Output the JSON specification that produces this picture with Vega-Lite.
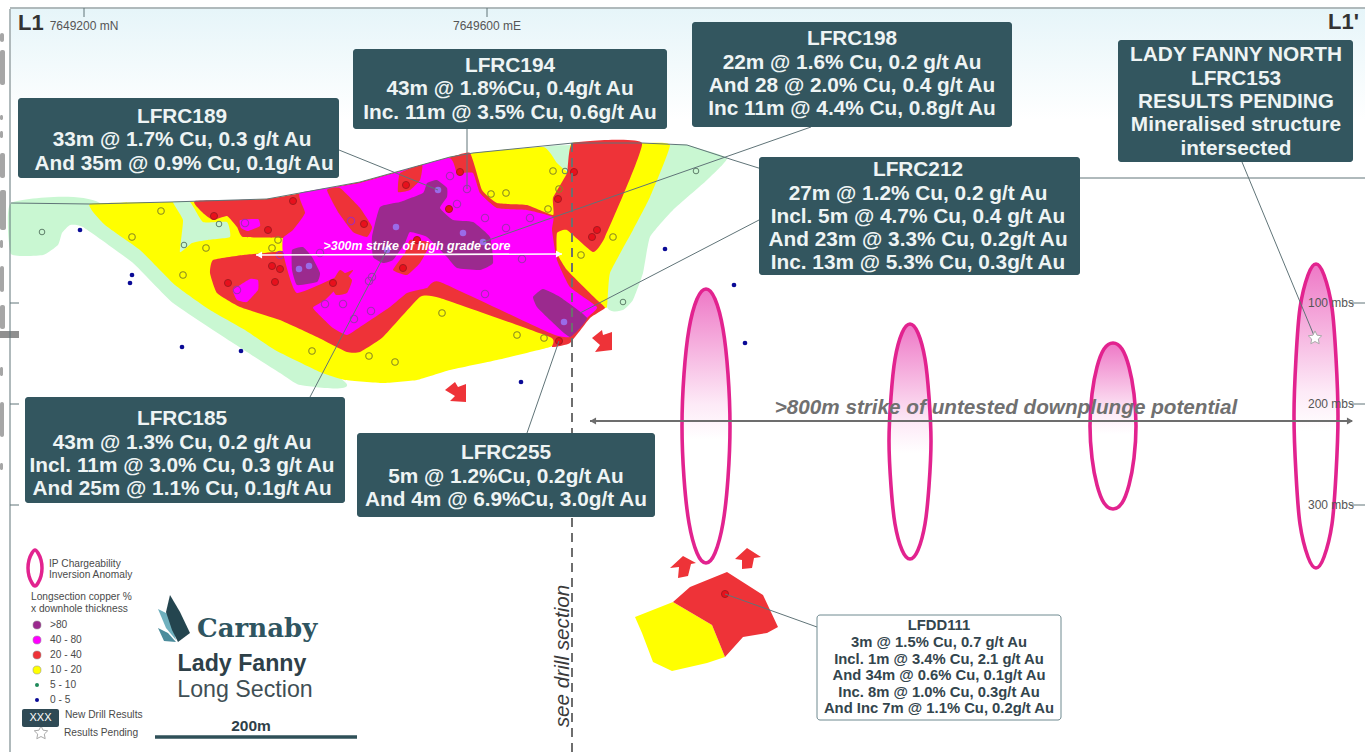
{"$schema":"https://vega.github.io/schema/vega-lite/v6.json","width":1365,"height":752,"padding":0,"autosize":"none","background":"#ffffff","config":{"view":{"stroke":null}},
"datasets":{
"polys":[
{"shape":"g1","grade":"5-10","x":11,"y":203},{"shape":"g1","grade":"5-10","x":100,"y":203},{"shape":"g1","grade":"5-10","x":345,"y":382},{"shape":"g1","grade":"5-10","x":300,"y":385},{"shape":"g1","grade":"5-10","x":280,"y":373},{"shape":"g1","grade":"5-10","x":233,"y":343},{"shape":"g1","grade":"5-10","x":173,"y":303},{"shape":"g1","grade":"5-10","x":133,"y":263},{"shape":"g1","grade":"5-10","x":83,"y":227},{"shape":"g1","grade":"5-10","x":70,"y":225},{"shape":"g1","grade":"5-10","x":62,"y":233},{"shape":"g1","grade":"5-10","x":58,"y":245},{"shape":"g1","grade":"5-10","x":43,"y":255},{"shape":"g1","grade":"5-10","x":11,"y":254},
{"shape":"g2","grade":"5-10","x":543,"y":147},{"shape":"g2","grade":"5-10","x":670,"y":145},{"shape":"g2","grade":"5-10","x":687,"y":145},{"shape":"g2","grade":"5-10","x":727,"y":158},{"shape":"g2","grade":"5-10","x":707,"y":180},{"shape":"g2","grade":"5-10","x":673,"y":210},{"shape":"g2","grade":"5-10","x":650,"y":237},{"shape":"g2","grade":"5-10","x":643,"y":273},{"shape":"g2","grade":"5-10","x":633,"y":300},{"shape":"g2","grade":"5-10","x":623,"y":310},{"shape":"g2","grade":"5-10","x":607,"y":307},{"shape":"g2","grade":"5-10","x":570,"y":200},
{"shape":"y1","grade":"10-20","x":90,"y":204},{"shape":"y1","grade":"10-20","x":170,"y":202},{"shape":"y1","grade":"10-20","x":267,"y":199},{"shape":"y1","grade":"10-20","x":360,"y":182},{"shape":"y1","grade":"10-20","x":450,"y":157},{"shape":"y1","grade":"10-20","x":473,"y":153},{"shape":"y1","grade":"10-20","x":543,"y":147},{"shape":"y1","grade":"10-20","x":557,"y":163},{"shape":"y1","grade":"10-20","x":570,"y":173},{"shape":"y1","grade":"10-20","x":572,"y":143},{"shape":"y1","grade":"10-20","x":642,"y":143},{"shape":"y1","grade":"10-20","x":670,"y":145},{"shape":"y1","grade":"10-20","x":650,"y":197},{"shape":"y1","grade":"10-20","x":633,"y":230},{"shape":"y1","grade":"10-20","x":610,"y":273},{"shape":"y1","grade":"10-20","x":607,"y":307},{"shape":"y1","grade":"10-20","x":600,"y":308},{"shape":"y1","grade":"10-20","x":570,"y":335},{"shape":"y1","grade":"10-20","x":550,"y":347},{"shape":"y1","grade":"10-20","x":497,"y":360},{"shape":"y1","grade":"10-20","x":450,"y":370},{"shape":"y1","grade":"10-20","x":417,"y":380},{"shape":"y1","grade":"10-20","x":383,"y":383},{"shape":"y1","grade":"10-20","x":345,"y":380},{"shape":"y1","grade":"10-20","x":320,"y":372},{"shape":"y1","grade":"10-20","x":275,"y":350},{"shape":"y1","grade":"10-20","x":245,"y":330},{"shape":"y1","grade":"10-20","x":210,"y":310},{"shape":"y1","grade":"10-20","x":175,"y":285},{"shape":"y1","grade":"10-20","x":140,"y":250},{"shape":"y1","grade":"10-20","x":105,"y":225},
{"shape":"g3","grade":"5-10","x":173,"y":202},{"shape":"g3","grade":"5-10","x":190,"y":202},{"shape":"g3","grade":"5-10","x":203,"y":222},{"shape":"g3","grade":"5-10","x":227,"y":222},{"shape":"g3","grade":"5-10","x":230,"y":237},{"shape":"g3","grade":"5-10","x":207,"y":240},{"shape":"g3","grade":"5-10","x":192,"y":243},{"shape":"g3","grade":"5-10","x":180,"y":252},{"shape":"g3","grade":"5-10","x":183,"y":220},
{"shape":"r1","grade":"20-40","x":195,"y":201},{"shape":"r1","grade":"20-40","x":267,"y":199},{"shape":"r1","grade":"20-40","x":360,"y":182},{"shape":"r1","grade":"20-40","x":448,"y":158},{"shape":"r1","grade":"20-40","x":470,"y":153},{"shape":"r1","grade":"20-40","x":482,"y":190},{"shape":"r1","grade":"20-40","x":497,"y":203},{"shape":"r1","grade":"20-40","x":527,"y":205},{"shape":"r1","grade":"20-40","x":553,"y":215},{"shape":"r1","grade":"20-40","x":553,"y":198},{"shape":"r1","grade":"20-40","x":567,"y":173},{"shape":"r1","grade":"20-40","x":573,"y":143},{"shape":"r1","grade":"20-40","x":642,"y":143},{"shape":"r1","grade":"20-40","x":605,"y":237},{"shape":"r1","grade":"20-40","x":593,"y":252},{"shape":"r1","grade":"20-40","x":567,"y":230},{"shape":"r1","grade":"20-40","x":557,"y":233},{"shape":"r1","grade":"20-40","x":557,"y":253},{"shape":"r1","grade":"20-40","x":567,"y":270},{"shape":"r1","grade":"20-40","x":597,"y":300},{"shape":"r1","grade":"20-40","x":605,"y":308},{"shape":"r1","grade":"20-40","x":590,"y":318},{"shape":"r1","grade":"20-40","x":570,"y":343},{"shape":"r1","grade":"20-40","x":552,"y":347},{"shape":"r1","grade":"20-40","x":550,"y":337},{"shape":"r1","grade":"20-40","x":440,"y":298},{"shape":"r1","grade":"20-40","x":420,"y":297},{"shape":"r1","grade":"20-40","x":383,"y":337},{"shape":"r1","grade":"20-40","x":360,"y":352},{"shape":"r1","grade":"20-40","x":347,"y":352},{"shape":"r1","grade":"20-40","x":317,"y":337},{"shape":"r1","grade":"20-40","x":280,"y":320},{"shape":"r1","grade":"20-40","x":240,"y":307},{"shape":"r1","grade":"20-40","x":217,"y":293},{"shape":"r1","grade":"20-40","x":210,"y":273},{"shape":"r1","grade":"20-40","x":213,"y":260},{"shape":"r1","grade":"20-40","x":243,"y":255},{"shape":"r1","grade":"20-40","x":290,"y":250},{"shape":"r1","grade":"20-40","x":283,"y":238},{"shape":"r1","grade":"20-40","x":243,"y":237},{"shape":"r1","grade":"20-40","x":237,"y":227},{"shape":"r1","grade":"20-40","x":227,"y":216},{"shape":"r1","grade":"20-40","x":213,"y":220},{"shape":"r1","grade":"20-40","x":203,"y":213},
{"shape":"m1","grade":"40-80","x":300,"y":193},{"shape":"m1","grade":"40-80","x":360,"y":183},{"shape":"m1","grade":"40-80","x":448,"y":158},{"shape":"m1","grade":"40-80","x":457,"y":173},{"shape":"m1","grade":"40-80","x":473,"y":173},{"shape":"m1","grade":"40-80","x":480,"y":193},{"shape":"m1","grade":"40-80","x":497,"y":208},{"shape":"m1","grade":"40-80","x":527,"y":210},{"shape":"m1","grade":"40-80","x":553,"y":217},{"shape":"m1","grade":"40-80","x":552,"y":230},{"shape":"m1","grade":"40-80","x":557,"y":260},{"shape":"m1","grade":"40-80","x":570,"y":287},{"shape":"m1","grade":"40-80","x":597,"y":307},{"shape":"m1","grade":"40-80","x":588,"y":317},{"shape":"m1","grade":"40-80","x":570,"y":337},{"shape":"m1","grade":"40-80","x":550,"y":333},{"shape":"m1","grade":"40-80","x":440,"y":282},{"shape":"m1","grade":"40-80","x":427,"y":288},{"shape":"m1","grade":"40-80","x":407,"y":293},{"shape":"m1","grade":"40-80","x":390,"y":307},{"shape":"m1","grade":"40-80","x":360,"y":327},{"shape":"m1","grade":"40-80","x":347,"y":335},{"shape":"m1","grade":"40-80","x":333,"y":328},{"shape":"m1","grade":"40-80","x":313,"y":308},{"shape":"m1","grade":"40-80","x":325,"y":300},{"shape":"m1","grade":"40-80","x":353,"y":270},{"shape":"m1","grade":"40-80","x":297,"y":293},{"shape":"m1","grade":"40-80","x":283,"y":253},{"shape":"m1","grade":"40-80","x":283,"y":238},{"shape":"m1","grade":"40-80","x":293,"y":230},{"shape":"m1","grade":"40-80","x":305,"y":213},
{"shape":"m2","grade":"40-80","x":240,"y":220},{"shape":"m2","grade":"40-80","x":258,"y":219},{"shape":"m2","grade":"40-80","x":260,"y":226},{"shape":"m2","grade":"40-80","x":248,"y":231},{"shape":"m2","grade":"40-80","x":241,"y":228},
{"shape":"m3","grade":"40-80","x":233,"y":290},{"shape":"m3","grade":"40-80","x":250,"y":279},{"shape":"m3","grade":"40-80","x":258,"y":280},{"shape":"m3","grade":"40-80","x":258,"y":290},{"shape":"m3","grade":"40-80","x":247,"y":302},{"shape":"m3","grade":"40-80","x":237,"y":300},
{"shape":"r2","grade":"20-40","x":327,"y":190},{"shape":"r2","grade":"20-40","x":340,"y":188},{"shape":"r2","grade":"20-40","x":360,"y":208},{"shape":"r2","grade":"20-40","x":372,"y":227},{"shape":"r2","grade":"20-40","x":367,"y":237},{"shape":"r2","grade":"20-40","x":353,"y":232},{"shape":"r2","grade":"20-40","x":338,"y":212},
{"shape":"r3","grade":"20-40","x":398,"y":192},{"shape":"r3","grade":"20-40","x":400,"y":173},{"shape":"r3","grade":"20-40","x":422,"y":165},{"shape":"r3","grade":"20-40","x":420,"y":180},{"shape":"r3","grade":"20-40","x":410,"y":190},
{"shape":"r5","grade":"20-40","x":340,"y":270},{"shape":"r5","grade":"20-40","x":352,"y":280},{"shape":"r5","grade":"20-40","x":347,"y":293},{"shape":"r5","grade":"20-40","x":336,"y":295},{"shape":"r5","grade":"20-40","x":331,"y":285},
{"shape":"p1","grade":">80","x":380,"y":207},{"shape":"p1","grade":">80","x":400,"y":202},{"shape":"p1","grade":">80","x":423,"y":193},{"shape":"p1","grade":">80","x":427,"y":183},{"shape":"p1","grade":">80","x":437,"y":180},{"shape":"p1","grade":">80","x":447,"y":188},{"shape":"p1","grade":">80","x":447,"y":197},{"shape":"p1","grade":">80","x":440,"y":208},{"shape":"p1","grade":">80","x":453,"y":220},{"shape":"p1","grade":">80","x":473,"y":222},{"shape":"p1","grade":">80","x":490,"y":237},{"shape":"p1","grade":">80","x":493,"y":263},{"shape":"p1","grade":">80","x":480,"y":270},{"shape":"p1","grade":">80","x":457,"y":268},{"shape":"p1","grade":">80","x":447,"y":257},{"shape":"p1","grade":">80","x":427,"y":237},{"shape":"p1","grade":">80","x":410,"y":232},{"shape":"p1","grade":">80","x":405,"y":243},{"shape":"p1","grade":">80","x":393,"y":260},{"shape":"p1","grade":">80","x":383,"y":263},{"shape":"p1","grade":">80","x":373,"y":257},{"shape":"p1","grade":">80","x":372,"y":237},
{"shape":"r4","grade":"20-40","x":410,"y":240},{"shape":"r4","grade":"20-40","x":430,"y":243},{"shape":"r4","grade":"20-40","x":420,"y":263},{"shape":"r4","grade":"20-40","x":407,"y":275},{"shape":"r4","grade":"20-40","x":393,"y":270},{"shape":"r4","grade":"20-40","x":405,"y":253},
{"shape":"p2","grade":">80","x":292,"y":250},{"shape":"p2","grade":">80","x":303,"y":247},{"shape":"p2","grade":">80","x":312,"y":257},{"shape":"p2","grade":">80","x":320,"y":273},{"shape":"p2","grade":">80","x":317,"y":282},{"shape":"p2","grade":">80","x":297,"y":285},{"shape":"p2","grade":">80","x":292,"y":270},
{"shape":"p3","grade":">80","x":533,"y":297},{"shape":"p3","grade":">80","x":543,"y":289},{"shape":"p3","grade":">80","x":560,"y":297},{"shape":"p3","grade":">80","x":587,"y":318},{"shape":"p3","grade":">80","x":570,"y":337},{"shape":"p3","grade":">80","x":550,"y":320},{"shape":"p3","grade":">80","x":537,"y":307}
],
"angular":[
{"shape":"y2","grade":"10-20","x":635,"y":617},{"shape":"y2","grade":"10-20","x":673,"y":602},{"shape":"y2","grade":"10-20","x":712,"y":625},{"shape":"y2","grade":"10-20","x":725,"y":657},{"shape":"y2","grade":"10-20","x":707,"y":663},{"shape":"y2","grade":"10-20","x":672,"y":671},{"shape":"y2","grade":"10-20","x":653,"y":662},{"shape":"y2","grade":"10-20","x":642,"y":633},
{"shape":"r6","grade":"20-40","x":673,"y":602},{"shape":"r6","grade":"20-40","x":690,"y":587},{"shape":"r6","grade":"20-40","x":727,"y":572},{"shape":"r6","grade":"20-40","x":763,"y":595},{"shape":"r6","grade":"20-40","x":778,"y":627},{"shape":"r6","grade":"20-40","x":767,"y":633},{"shape":"r6","grade":"20-40","x":743,"y":637},{"shape":"r6","grade":"20-40","x":725,"y":657},{"shape":"r6","grade":"20-40","x":712,"y":625},
{"shape":"a1","grade":"20-40","x":670,"y":568},{"shape":"a1","grade":"20-40","x":683,"y":556},{"shape":"a1","grade":"20-40","x":696,"y":563},{"shape":"a1","grade":"20-40","x":691,"y":564},{"shape":"a1","grade":"20-40","x":688,"y":576},{"shape":"a1","grade":"20-40","x":678,"y":578},{"shape":"a1","grade":"20-40","x":679,"y":567},
{"shape":"a2","grade":"20-40","x":735,"y":559},{"shape":"a2","grade":"20-40","x":747,"y":548},{"shape":"a2","grade":"20-40","x":761,"y":557},{"shape":"a2","grade":"20-40","x":754,"y":558},{"shape":"a2","grade":"20-40","x":752,"y":568},{"shape":"a2","grade":"20-40","x":742,"y":569},{"shape":"a2","grade":"20-40","x":742,"y":560},
{"shape":"a3","grade":"20-40","x":592,"y":338},{"shape":"a3","grade":"20-40","x":602,"y":330},{"shape":"a3","grade":"20-40","x":603,"y":335},{"shape":"a3","grade":"20-40","x":612,"y":332},{"shape":"a3","grade":"20-40","x":612,"y":350},{"shape":"a3","grade":"20-40","x":595,"y":352},{"shape":"a3","grade":"20-40","x":600,"y":345},
{"shape":"a4","grade":"20-40","x":445,"y":390},{"shape":"a4","grade":"20-40","x":455,"y":382},{"shape":"a4","grade":"20-40","x":458,"y":387},{"shape":"a4","grade":"20-40","x":466,"y":384},{"shape":"a4","grade":"20-40","x":466,"y":402},{"shape":"a4","grade":"20-40","x":450,"y":401},{"shape":"a4","grade":"20-40","x":455,"y":396}
],
"holes":[
{"grade":"5-10","x":42,"y":232},{"grade":"5-10","x":219,"y":224},{"grade":"5-10","x":184,"y":245},{"grade":"5-10","x":565,"y":171},{"grade":"5-10","x":696,"y":171},{"grade":"5-10","x":623,"y":302},
{"grade":"0-5","x":80,"y":230},{"grade":"0-5","x":132,"y":275},{"grade":"0-5","x":130,"y":283},{"grade":"0-5","x":182,"y":347},{"grade":"0-5","x":241,"y":351},{"grade":"0-5","x":665,"y":249},{"grade":"0-5","x":734,"y":285},{"grade":"0-5","x":521,"y":382},{"grade":"0-5","x":745,"y":343},
{"grade":"10-20","x":161,"y":211},{"grade":"10-20","x":132,"y":237},{"grade":"10-20","x":206,"y":248},{"grade":"10-20","x":183,"y":275},{"grade":"10-20","x":278,"y":240},{"grade":"10-20","x":272,"y":248},{"grade":"10-20","x":312,"y":351},{"grade":"10-20","x":553,"y":171},{"grade":"10-20","x":491,"y":194},{"grade":"10-20","x":506,"y":193},{"grade":"10-20","x":559,"y":189},{"grade":"10-20","x":548,"y":209},{"grade":"10-20","x":442,"y":313},{"grade":"10-20","x":517,"y":335},{"grade":"10-20","x":544,"y":338},{"grade":"10-20","x":369,"y":356},{"grade":"10-20","x":395,"y":362},{"grade":"10-20","x":581,"y":255},{"grade":"10-20","x":613,"y":237},
{"grade":"20-40","x":293,"y":201},{"grade":"20-40","x":214,"y":216},{"grade":"20-40","x":268,"y":230},{"grade":"20-40","x":272,"y":266},{"grade":"20-40","x":280,"y":269},{"grade":"20-40","x":228,"y":283},{"grade":"20-40","x":275,"y":282},{"grade":"20-40","x":333,"y":283},{"grade":"20-40","x":406,"y":185},{"grade":"20-40","x":460,"y":172},{"grade":"20-40","x":449,"y":209},{"grade":"20-40","x":364,"y":224},{"grade":"20-40","x":417,"y":240},{"grade":"20-40","x":403,"y":268},{"grade":"20-40","x":574,"y":172},{"grade":"20-40","x":558,"y":199},{"grade":"20-40","x":597,"y":230},{"grade":"20-40","x":592,"y":237},{"grade":"20-40","x":559,"y":341},{"grade":"20-40","x":725,"y":594},
{"grade":"40-80","x":245,"y":223},{"grade":"40-80","x":351,"y":221},{"grade":"40-80","x":280,"y":255},{"grade":"40-80","x":320,"y":253},{"grade":"40-80","x":237,"y":290},{"grade":"40-80","x":325,"y":304},{"grade":"40-80","x":343,"y":304},{"grade":"40-80","x":354,"y":319},{"grade":"40-80","x":450,"y":176},{"grade":"40-80","x":467,"y":189},{"grade":"40-80","x":457,"y":204},{"grade":"40-80","x":485,"y":218},{"grade":"40-80","x":530,"y":218},{"grade":"40-80","x":506,"y":228},{"grade":"40-80","x":522,"y":259},{"grade":"40-80","x":372,"y":277},{"grade":"40-80","x":369,"y":281},{"grade":"40-80","x":485,"y":294},{"grade":"40-80","x":371,"y":311},
{"grade":">80","x":299,"y":269},{"grade":">80","x":309,"y":266},{"grade":">80","x":438,"y":190},{"grade":">80","x":396,"y":227},{"grade":">80","x":463,"y":233},{"grade":">80","x":483,"y":242},{"grade":">80","x":387,"y":250},{"grade":">80","x":564,"y":322}
],
"anomalies":[
{"a":"A","x":706,"y":289},{"a":"A","x":715,"y":299},{"a":"A","x":723,"y":329},{"a":"A","x":728,"y":374},{"a":"A","x":730,"y":426},{"a":"A","x":728,"y":478},{"a":"A","x":723,"y":523},{"a":"A","x":715,"y":553},{"a":"A","x":706,"y":563},{"a":"A","x":697,"y":553},{"a":"A","x":689,"y":523},{"a":"A","x":684,"y":478},{"a":"A","x":682,"y":426},{"a":"A","x":684,"y":374},{"a":"A","x":689,"y":329},{"a":"A","x":697,"y":299},
{"a":"B","x":910,"y":324},{"a":"B","x":918,"y":333},{"a":"B","x":925,"y":359},{"a":"B","x":929,"y":397},{"a":"B","x":931,"y":441},{"a":"B","x":929,"y":486},{"a":"B","x":925,"y":524},{"a":"B","x":918,"y":550},{"a":"B","x":910,"y":559},{"a":"B","x":902,"y":550},{"a":"B","x":895,"y":524},{"a":"B","x":891,"y":486},{"a":"B","x":889,"y":441},{"a":"B","x":891,"y":397},{"a":"B","x":895,"y":359},{"a":"B","x":902,"y":333},
{"a":"C","x":1113,"y":343},{"a":"C","x":1122,"y":349},{"a":"C","x":1129,"y":367},{"a":"C","x":1134,"y":394},{"a":"C","x":1136,"y":426},{"a":"C","x":1134,"y":458},{"a":"C","x":1129,"y":485},{"a":"C","x":1122,"y":503},{"a":"C","x":1113,"y":509},{"a":"C","x":1104,"y":503},{"a":"C","x":1097,"y":485},{"a":"C","x":1092,"y":458},{"a":"C","x":1090,"y":426},{"a":"C","x":1092,"y":394},{"a":"C","x":1097,"y":367},{"a":"C","x":1104,"y":349},
{"a":"D","x":1316,"y":264},{"a":"D","x":1324,"y":275},{"a":"D","x":1332,"y":308},{"a":"D","x":1336,"y":358},{"a":"D","x":1338,"y":416},{"a":"D","x":1336,"y":474},{"a":"D","x":1332,"y":524},{"a":"D","x":1324,"y":557},{"a":"D","x":1316,"y":568},{"a":"D","x":1308,"y":557},{"a":"D","x":1300,"y":524},{"a":"D","x":1296,"y":474},{"a":"D","x":1294,"y":416},{"a":"D","x":1296,"y":358},{"a":"D","x":1300,"y":308},{"a":"D","x":1308,"y":275}
],
"thin":[
{"l":"frameL","x":10,"y":9},{"l":"frameL","x":10,"y":752},{"l":"frameT","x":10,"y":8},{"l":"frameT","x":1365,"y":8},
{"l":"t1","x":84,"y":8},{"l":"t1","x":84,"y":17},{"l":"t2","x":487,"y":8},{"l":"t2","x":487,"y":17},
{"l":"t3","x":10,"y":303},{"l":"t3","x":19,"y":303},{"l":"t4","x":10,"y":404},{"l":"t4","x":19,"y":404},{"l":"t5","x":10,"y":505},{"l":"t5","x":19,"y":505},
{"l":"t6","x":1350,"y":303},{"l":"t6","x":1365,"y":303},{"l":"t7","x":1350,"y":404},{"l":"t7","x":1365,"y":404},{"l":"t8","x":1350,"y":505},{"l":"t8","x":1365,"y":505},
{"l":"surfL","x":11,"y":203},{"l":"surfL","x":90,"y":204},{"l":"surfL","x":170,"y":202},{"l":"surfL","x":267,"y":199},{"l":"surfL","x":360,"y":182},{"l":"surfL","x":450,"y":157},{"l":"surfL","x":473,"y":153},{"l":"surfL","x":573,"y":143},{"l":"surfL","x":642,"y":143},{"l":"surfL","x":687,"y":145},{"l":"surfL","x":733,"y":160},{"l":"surfL","x":765,"y":170},
{"l":"surfR","x":1080,"y":178},{"l":"surfR","x":1365,"y":178},
{"l":"c189","x":339,"y":150},{"l":"c189","x":438,"y":190},{"l":"c194","x":467,"y":129},{"l":"c194","x":467,"y":189},{"l":"c198","x":811,"y":127},{"l":"c198","x":483,"y":242},{"l":"c212","x":759,"y":220},{"l":"c212","x":580,"y":313},{"l":"c185","x":310,"y":397},{"l":"c185","x":387,"y":250},{"l":"c255","x":527,"y":433},{"l":"c255","x":559,"y":341},{"l":"c153","x":1242,"y":162},{"l":"c153","x":1315,"y":338},{"l":"c111","x":817,"y":627},{"l":"c111","x":725,"y":594}
],
"fragments":[
{"x":0,"x2":4,"y":33,"y2":42},{"x":0,"x2":5,"y":50,"y2":85},{"x":0,"x2":3,"y":115,"y2":120},{"x":0,"x2":3,"y":131,"y2":138},{"x":0,"x2":5,"y":153,"y2":178},{"x":0,"x2":6,"y":190,"y2":230},{"x":0,"x2":3,"y":240,"y2":248},{"x":0,"x2":4,"y":266,"y2":292},{"x":0,"x2":5,"y":305,"y2":329},{"x":0,"x2":3,"y":367,"y2":376},{"x":0,"x2":4,"y":402,"y2":437},{"x":0,"x2":3,"y":463,"y2":470}
],
"darkBoxes":[
{"box":"LFRC189","x":18,"x2":339,"y":98,"y2":178},{"box":"LFRC194","x":353,"x2":667,"y":49,"y2":129},{"box":"LFRC198","x":692,"x2":1012,"y":22,"y2":127},{"box":"LFRC212","x":759,"x2":1080,"y":157,"y2":275},{"box":"LADY","x":1118,"x2":1353,"y":40,"y2":162},{"box":"LFRC185","x":25,"x2":345,"y":397,"y2":503},{"box":"LFRC255","x":357,"x2":655,"y":433,"y2":517}
],
"callouts":[
{"t":"LFRC189","x":182,"y":117},{"t":"33m @ 1.7% Cu, 0.3 g/t Au","x":182,"y":140},{"t":"And 35m @ 0.9% Cu, 0.1g/t Au","x":184,"y":164},
{"t":"LFRC194","x":510,"y":66},{"t":"43m @ 1.8%Cu, 0.4g/t Au","x":510,"y":89},{"t":"Inc. 11m @ 3.5% Cu, 0.6g/t Au","x":510,"y":113},
{"t":"LFRC198","x":852,"y":39},{"t":"22m @ 1.6% Cu, 0.2 g/t Au","x":852,"y":63},{"t":"And 28 @ 2.0% Cu, 0.4 g/t Au","x":852,"y":86},{"t":"Inc 11m @ 4.4% Cu, 0.8g/t Au","x":852,"y":109},
{"t":"LFRC212","x":918,"y":170},{"t":"27m @ 1.2% Cu, 0.2 g/t Au","x":918,"y":194},{"t":"Incl. 5m @ 4.7% Cu, 0.4 g/t Au","x":918,"y":217},{"t":"And 23m @ 3.3% Cu, 0.2g/t Au","x":918,"y":240},{"t":"Inc. 13m @ 5.3% Cu, 0.3g/t Au","x":918,"y":263},
{"t":"LADY FANNY NORTH","x":1236,"y":55},{"t":"LFRC153","x":1236,"y":79},{"t":"RESULTS PENDING","x":1236,"y":102},{"t":"Mineralised structure","x":1236,"y":125},{"t":"intersected","x":1236,"y":149},
{"t":"LFRC185","x":182,"y":419},{"t":"43m @ 1.3% Cu, 0.2 g/t Au","x":182,"y":443},{"t":"Incl. 11m @ 3.0% Cu, 0.3 g/t Au","x":182,"y":466},{"t":"And 25m @ 1.1% Cu, 0.1g/t Au","x":182,"y":489},
{"t":"LFRC255","x":506,"y":453},{"t":"5m @ 1.2%Cu, 0.2g/t Au","x":506,"y":477},{"t":"And 4m @ 6.9%Cu, 3.0g/t Au","x":506,"y":500}
]
},
"encoding":{"x":{"field":"x","type":"quantitative","scale":{"domain":[0,1365],"nice":false,"zero":false},"axis":null},"y":{"field":"y","type":"quantitative","scale":{"domain":[752,0],"nice":false,"zero":false},"axis":null}},
"layer":[
{"data":{"values":[{"x":11,"x2":1365,"y":9,"y2":120}]},"mark":{"type":"rect","fill":{"gradient":"linear","x1":0,"y1":0,"x2":0,"y2":1,"stops":[{"offset":0,"color":"#e6f5f9"},{"offset":1,"color":"#ffffff"}]}},"encoding":{"x2":{"field":"x2"},"y2":{"field":"y2"}}},
{"data":{"name":"fragments"},"mark":{"type":"rect","fill":"#a6a6a6","cornerRadius":2},"encoding":{"x2":{"field":"x2"},"y2":{"field":"y2"}}},
{"data":{"values":[{"x":0,"x2":19,"y":331,"y2":338}]},"mark":{"type":"rect","fill":"#909090"},"encoding":{"x2":{"field":"x2"},"y2":{"field":"y2"}}},
{"data":{"name":"polys"},"mark":{"type":"line","filled":true,"strokeWidth":0,"opacity":1,"interpolate":"cardinal-closed","tension":0.6},"encoding":{"detail":{"field":"shape"},"order":{"value":null},"fill":{"field":"grade","type":"nominal","legend":null,"scale":{"domain":[">80","40-80","20-40","10-20","5-10"],"range":["#9b2a8e","#ff00ff","#ee3338","#ffff00","#c9f7d2"]}}}},
{"data":{"name":"angular"},"mark":{"type":"line","filled":true,"strokeWidth":0,"opacity":1},"encoding":{"detail":{"field":"shape"},"order":{"value":null},"fill":{"field":"grade","type":"nominal","legend":null,"scale":{"domain":[">80","40-80","20-40","10-20","5-10"],"range":["#9b2a8e","#ff00ff","#ee3338","#ffff00","#c9f7d2"]}}}},
{"data":{"name":"holes"},"transform":[{"filter":"datum.grade=='10-20'"}],"mark":{"type":"point","size":42,"filled":false,"stroke":"#8a8a20","strokeWidth":1.1,"opacity":1}},
{"data":{"name":"holes"},"transform":[{"filter":"datum.grade=='5-10'"}],"mark":{"type":"point","size":32,"filled":false,"stroke":"#5f7f6a","strokeWidth":1,"opacity":1}},
{"data":{"name":"holes"},"transform":[{"filter":"datum.grade=='0-5'"}],"mark":{"type":"point","size":22,"filled":true,"fill":"#0a0a96","opacity":1}},
{"data":{"name":"holes"},"transform":[{"filter":"datum.grade=='20-40'"}],"mark":{"type":"point","size":50,"filled":true,"fill":"#e8101c","stroke":"#a51a20","strokeWidth":1,"opacity":1}},
{"data":{"name":"holes"},"transform":[{"filter":"datum.grade=='40-80'"}],"mark":{"type":"point","size":55,"filled":false,"stroke":"#a52bb5","strokeWidth":1.1,"opacity":1}},
{"data":{"name":"holes"},"transform":[{"filter":"datum.grade=='>80'"}],"mark":{"type":"point","size":42,"filled":true,"fill":"#9a6be8","opacity":1}},
{"data":{"name":"anomalies"},"mark":{"type":"line","interpolate":"cardinal-closed","filled":true,"fill":{"gradient":"linear","x1":0,"y1":0,"x2":0,"y2":1,"stops":[{"offset":0,"color":"#ee78c6"},{"offset":0.42,"color":"#fdeaf7"},{"offset":0.55,"color":"#ffffff"},{"offset":1,"color":"#ffffff"}]},"stroke":"#e2238f","strokeWidth":3.6},"encoding":{"detail":{"field":"a"},"order":{"value":null}}},
{"data":{"values":[{"a":"L","x":35,"y":550},{"a":"L","x":38,"y":553},{"a":"L","x":41,"y":560},{"a":"L","x":42,"y":568},{"a":"L","x":41,"y":576},{"a":"L","x":38,"y":583},{"a":"L","x":35,"y":586},{"a":"L","x":32,"y":583},{"a":"L","x":29,"y":576},{"a":"L","x":28,"y":568},{"a":"L","x":29,"y":560},{"a":"L","x":32,"y":553}]},"mark":{"type":"line","interpolate":"cardinal-closed","filled":true,"fill":"#ffffff","stroke":"#e2238f","strokeWidth":3.5},"encoding":{"detail":{"field":"a"},"order":{"value":null}}},
{"data":{"values":[{"l":"w","x":256,"y":255},{"l":"w","x":562,"y":254}]},"mark":{"type":"line","stroke":"#ffffff","strokeWidth":1.6},"encoding":{"detail":{"field":"l"},"order":{"value":null}}},
{"data":{"values":[{"x":259,"y":255}]},"mark":{"type":"point","shape":"triangle-left","size":50,"filled":true,"fill":"#ffffff","opacity":1}},
{"data":{"values":[{"x":559,"y":254}]},"mark":{"type":"point","shape":"triangle-right","size":50,"filled":true,"fill":"#ffffff","opacity":1}},
{"data":{"values":[{"l":"g","x":590,"y":421},{"l":"g","x":1352,"y":421}]},"mark":{"type":"line","stroke":"#6d6d6d","strokeWidth":2},"encoding":{"detail":{"field":"l"},"order":{"value":null}}},
{"data":{"values":[{"x":593,"y":421}]},"mark":{"type":"point","shape":"triangle-left","size":50,"filled":true,"fill":"#6d6d6d","opacity":1}},
{"data":{"values":[{"x":1350,"y":421}]},"mark":{"type":"point","shape":"triangle-right","size":50,"filled":true,"fill":"#6d6d6d","opacity":1}},
{"data":{"values":[{"l":"d","x":572,"y":143},{"l":"d","x":572,"y":752}]},"mark":{"type":"line","stroke":"#6e6e6e","strokeWidth":2,"strokeDash":[9,6]},"encoding":{"detail":{"field":"l"},"order":{"value":null}}},
{"data":{"name":"thin"},"mark":{"type":"line","stroke":"#607478","strokeWidth":1},"encoding":{"detail":{"field":"l"},"order":{"value":null}}},
{"data":{"values":[{"x":1315,"y":338},{"x":41,"y":733}]},"mark":{"type":"point","shape":"M0,-1L0.29,-0.4L0.95,-0.31L0.47,0.15L0.59,0.81L0,0.5L-0.59,0.81L-0.47,0.15L-0.95,-0.31L-0.29,-0.4Z","size":200,"filled":true,"fill":"#ffffff","stroke":"#a9a9a9","strokeWidth":1,"opacity":1}},
{"data":{"name":"darkBoxes"},"mark":{"type":"rect","fill":"#8c9496","opacity":0.75,"cornerRadius":3,"xOffset":3,"yOffset":3},"encoding":{"x2":{"field":"x2"},"y2":{"field":"y2"}}},
{"data":{"name":"darkBoxes"},"mark":{"type":"rect","fill":"#33565f","cornerRadius":3},"encoding":{"x2":{"field":"x2"},"y2":{"field":"y2"}}},
{"data":{"values":[{"x":817,"x2":1061,"y":615,"y2":720}]},"mark":{"type":"rect","fill":"#8c9496","opacity":0.75,"cornerRadius":3,"xOffset":2,"yOffset":3},"encoding":{"x2":{"field":"x2"},"y2":{"field":"y2"}}},
{"data":{"values":[{"x":817,"x2":1061,"y":615,"y2":720}]},"mark":{"type":"rect","fill":"#ffffff","stroke":"#6f8a90","strokeWidth":1,"cornerRadius":3},"encoding":{"x2":{"field":"x2"},"y2":{"field":"y2"}}},
{"data":{"values":[{"x":22,"x2":59,"y":709,"y2":727}]},"mark":{"type":"rect","fill":"#2f4a55","cornerRadius":2},"encoding":{"x2":{"field":"x2"},"y2":{"field":"y2"}}},
{"data":{"name":"callouts"},"mark":{"type":"text","font":"Liberation Sans","fontWeight":"bold","fontSize":20.8,"fill":"#eef4f4","align":"center","baseline":"middle"},"encoding":{"text":{"field":"t"}}},
{"data":{"values":[{"t":"LFDD111","x":939,"y":626},{"t":"3m @ 1.5% Cu, 0.7 g/t Au","x":939,"y":643},{"t":"Incl. 1m @ 3.4% Cu, 2.1 g/t Au","x":939,"y":660},{"t":"And 34m @ 0.6% Cu, 0.1g/t Au","x":939,"y":676},{"t":"Inc. 8m @ 1.0% Cu, 0.3g/t Au","x":939,"y":693},{"t":"And Inc 7m @ 1.1% Cu, 0.2g/t Au","x":939,"y":709}]},"mark":{"type":"text","font":"Liberation Sans","fontWeight":"bold","fontSize":14.8,"fill":"#33454d","align":"center","baseline":"middle"},"encoding":{"text":{"field":"t"}}},
{"data":{"values":[{"t":">300m strike of high grade core","x":417,"y":246}]},"mark":{"type":"text","font":"Liberation Sans","fontWeight":"bold","fontStyle":"italic","fontSize":12.4,"fill":"#ffffff","align":"center","baseline":"middle"},"encoding":{"text":{"field":"t"}}},
{"data":{"values":[{"t":">800m strike of untested downplunge potential","x":1006,"y":408}]},"mark":{"type":"text","font":"Liberation Sans","fontWeight":"bold","fontStyle":"italic","fontSize":20.7,"fill":"#707070","align":"center","baseline":"middle"},"encoding":{"text":{"field":"t"}}},
{"data":{"values":[{"t":"see drill section","x":563,"y":656}]},"mark":{"type":"text","font":"Liberation Sans","fontStyle":"italic","fontSize":20.7,"angle":270,"fill":"#3a3a3a","align":"center","baseline":"middle"},"encoding":{"text":{"field":"t"}}},
{"data":{"values":[{"t":"L1","x":18,"y":23}]},"mark":{"type":"text","font":"Liberation Sans","fontWeight":"bold","fontSize":22,"fill":"#333333","align":"left","baseline":"middle"},"encoding":{"text":{"field":"t"}}},
{"data":{"values":[{"t":"L1'","x":1359,"y":22}]},"mark":{"type":"text","font":"Liberation Sans","fontWeight":"bold","fontSize":22,"fill":"#333333","align":"right","baseline":"middle"},"encoding":{"text":{"field":"t"}}},
{"data":{"values":[{"t":"7649200 mN","x":84,"y":26},{"t":"7649600 mE","x":487,"y":26},{"t":"100 mbs","x":1331,"y":303},{"t":"200 mbs","x":1331,"y":404},{"t":"300 mbs","x":1331,"y":505}]},"mark":{"type":"text","font":"Liberation Sans","fontSize":12,"fill":"#555555","align":"center","baseline":"middle"},"encoding":{"text":{"field":"t"}}},
{"data":{"values":[{"t":"IP Chargeability","x":49,"y":564},{"t":"Inversion Anomaly","x":49,"y":575},{"t":"Longsection copper %","x":31,"y":597},{"t":"x downhole thickness","x":31,"y":609},{"t":">80","x":50,"y":625},{"t":"40 - 80","x":50,"y":640},{"t":"20 - 40","x":50,"y":655},{"t":"10 - 20","x":50,"y":670},{"t":"5 - 10","x":50,"y":685},{"t":"0 - 5","x":50,"y":700},{"t":"New Drill Results","x":65,"y":715},{"t":"Results Pending","x":64,"y":733}]},"mark":{"type":"text","font":"Liberation Sans","fontSize":10.2,"fill":"#4a4a4a","align":"left","baseline":"middle"},"encoding":{"text":{"field":"t"}}},
{"data":{"values":[{"t":"XXX","x":40.5,"y":718}]},"mark":{"type":"text","font":"Liberation Sans","fontSize":11,"fill":"#ffffff","align":"center","baseline":"middle"},"encoding":{"text":{"field":"t"}}},
{"data":{"values":[{"grade":">80","x":37,"y":625},{"grade":"40-80","x":37,"y":640},{"grade":"20-40","x":37,"y":655},{"grade":"10-20","x":37,"y":670}]},"mark":{"type":"point","size":65,"filled":true,"opacity":1,"stroke":"#888888","strokeWidth":0.5},"encoding":{"fill":{"field":"grade","type":"nominal","legend":null,"scale":{"domain":[">80","40-80","20-40","10-20","5-10"],"range":["#9b2a8e","#ff00ff","#ee3338","#ffff00","#c9f7d2"]}}}},
{"data":{"values":[{"x":37,"y":685}]},"mark":{"type":"point","size":16,"filled":true,"fill":"#1f8a5a","opacity":1}},
{"data":{"values":[{"x":37,"y":700}]},"mark":{"type":"point","size":16,"filled":true,"fill":"#0a0a96","opacity":1}},
{"data":{"values":[{"l":"bar","x":155,"y":737},{"l":"bar","x":357,"y":737}]},"mark":{"type":"line","stroke":"#2f5058","strokeWidth":3.5},"encoding":{"detail":{"field":"l"},"order":{"value":null}}},
{"data":{"values":[{"f":"b","x":158,"y":609},{"f":"b","x":170,"y":615},{"f":"b","x":176,"y":640},{"f":"b","x":166,"y":628},{"f":"c","x":158,"y":628},{"f":"c","x":168,"y":633},{"f":"c","x":176,"y":642},{"f":"c","x":164,"y":641},{"f":"a","x":170,"y":595},{"f":"a","x":180,"y":612},{"f":"a","x":190,"y":633},{"f":"a","x":178,"y":642},{"f":"a","x":172,"y":630},{"f":"a","x":166,"y":612}]},"mark":{"type":"line","filled":true,"strokeWidth":0},"encoding":{"detail":{"field":"f"},"order":{"value":null},"color":{"value":null},"fill":{"field":"f","type":"nominal","legend":null,"scale":{"domain":["a","b","c",">80","40-80","20-40","10-20","5-10"],"range":["#24454f","#6fb0be","#4c8c9c","#9b2a8e","#ff00ff","#ee3338","#ffff00","#c9f7d2"]}}},"resolve":{"scale":{"fill":"independent"}}},
{"data":{"values":[{"t":"Carnaby","x":197,"y":629}]},"mark":{"type":"text","font":"DejaVu Serif","fontWeight":"bold","fontSize":26,"fill":"#2f5561","align":"left","baseline":"middle"},"encoding":{"text":{"field":"t"}}},
{"data":{"values":[{"t":"Lady Fanny","x":242,"y":664}]},"mark":{"type":"text","font":"Liberation Sans","fontWeight":"bold","fontSize":23.2,"fill":"#2e4048","align":"center","baseline":"middle"},"encoding":{"text":{"field":"t"}}},
{"data":{"values":[{"t":"Long Section","x":245,"y":690}]},"mark":{"type":"text","font":"Liberation Sans","fontSize":23.2,"fill":"#3f4f55","align":"center","baseline":"middle"},"encoding":{"text":{"field":"t"}}},
{"data":{"values":[{"t":"200m","x":251,"y":726}]},"mark":{"type":"text","font":"Liberation Sans","fontWeight":"bold","fontSize":15.5,"fill":"#2e4048","align":"center","baseline":"middle"},"encoding":{"text":{"field":"t"}}}
],"resolve":{"scale":{"fill":"independent"}}}
